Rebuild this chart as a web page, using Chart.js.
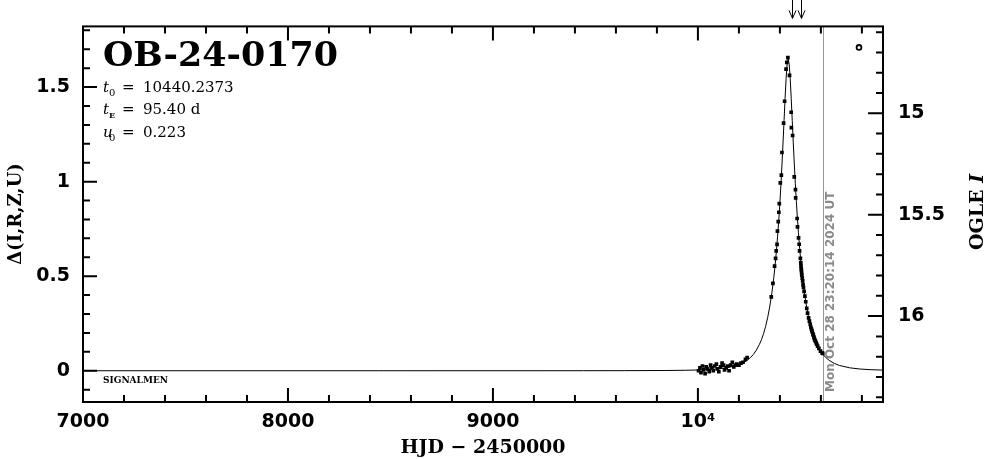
<!DOCTYPE html>
<html>
<head>
<meta charset="utf-8">
<script src="https://cdn.jsdelivr.net/npm/chart.js@4.4.1/dist/chart.umd.min.js"></script>
<style>
  body { margin: 0; background: #fff; }
  #wrap { width: 986px; height: 459px; }
</style>
</head>
<body>
<div id="wrap"><canvas id="lc"></canvas></div>
<script>
// curva del modelo
const modelT = [7000, 8440.24, 9440.24, 9640.24, 9840.24, 9940.24, 9990.24, 10040.24, 10090.24, 10140.24,
  10190.24, 10215.24, 10240.24, 10255.24, 10270.24, 10285.24, 10300.24, 10310.24, 10320.24, 10330.24,
  10340.24, 10350.24, 10360.24, 10365.24, 10370.24, 10375.24, 10380.24, 10385.24, 10390.24, 10395.24,
  10400.24, 10405.24, 10410.24, 10415.24, 10420.24, 10425.24, 10430.24, 10435.24, 10440.24,
  10445.24, 10450.24, 10455.24, 10460.24, 10465.24, 10470.24, 10475.24, 10480.24, 10485.24, 10490.24,
  10495.24, 10500.24, 10505.24, 10510.24, 10515.24, 10520.24, 10530.24, 10540.24, 10550.24, 10560.24,
  10570.24, 10580.24, 10595.24, 10610.24, 10625.24, 10640.24, 10665.24, 10690.24, 10740.24, 10790.24,
  10840.24, 10903];
const modelDelta = [0, 0, 0.0002, 0.0004, 0.0013, 0.0025, 0.0037, 0.0057, 0.0091, 0.0155,
  0.0280, 0.0388, 0.0550, 0.0685, 0.0860, 0.1090, 0.1394, 0.1650, 0.1961, 0.2341,
  0.2805, 0.3374, 0.4074, 0.4482, 0.4936, 0.5440, 0.6002, 0.6626, 0.7320, 0.8091,
  0.8947, 0.9893, 1.0929, 1.2049, 1.3226, 1.4398, 1.5452, 1.6211, 1.6492,
  1.6211, 1.5452, 1.4398, 1.3226, 1.2049, 1.0929, 0.9893, 0.8947, 0.8091, 0.7320,
  0.6626, 0.6002, 0.5440, 0.4936, 0.4482, 0.4074, 0.3374, 0.2805, 0.2341, 0.1961,
  0.1650, 0.1394, 0.1090, 0.0860, 0.0685, 0.0550, 0.0388, 0.0280, 0.0155, 0.0091,
  0.0057, 0.0034];

// observaciones
const obsT = [10003, 10010, 10015, 10022, 10028, 10035, 10040, 10048, 10055, 10062,
  10068, 10075, 10082, 10090, 10095, 10102, 10110, 10118, 10125, 10130,
  10138, 10145, 10152, 10160, 10168, 10175, 10182, 10190, 10200, 10210,
  10220, 10232, 10240,
  10358, 10366, 10374, 10379, 10382, 10386, 10388, 10392, 10395, 10397,
  10402, 10407, 10410, 10418, 10423, 10430, 10434, 10439,
  10447, 10455, 10456, 10462, 10470, 10476, 10477, 10484, 10486, 10491,
  10494, 10496, 10500, 10502, 10503, 10504, 10505, 10506, 10507, 10509,
  10511, 10513, 10515, 10518, 10522, 10526, 10531, 10535, 10540, 10544,
  10548, 10551, 10554, 10556, 10558, 10561, 10563, 10566, 10568, 10571,
  10574, 10577, 10580, 10584, 10590, 10598, 10606, 10609];
const obsDelta = [0.000, 0.015, -0.010, 0.025, 0.005, -0.015, 0.020, 0.010, -0.005, 0.030,
  0.015, 0.000, 0.025, 0.035, 0.010, -0.005, 0.020, 0.040, 0.030, 0.005,
  0.015, 0.025, 0.000, 0.030, 0.045, 0.020, 0.030, 0.035, 0.030, 0.040,
  0.045, 0.060, 0.070,
  0.391, 0.462, 0.553, 0.594, 0.634, 0.668, 0.738, 0.789, 0.838, 0.884,
  0.993, 1.034, 1.154, 1.309, 1.425, 1.595, 1.631, 1.656,
  1.562, 1.367, 1.286, 1.244, 1.025, 0.958, 0.914, 0.805, 0.761, 0.703,
  0.669, 0.634, 0.594, 0.570, 0.555, 0.540, 0.530, 0.515, 0.505, 0.490,
  0.475, 0.455, 0.440, 0.420, 0.395, 0.365, 0.330, 0.305, 0.280, 0.262,
  0.245, 0.230, 0.220, 0.212, 0.205, 0.195, 0.188, 0.178, 0.170, 0.162,
  0.155, 0.147, 0.140, 0.130, 0.118, 0.104, 0.094, 0.092];

const leftTicks = [0, 0.5, 1, 1.5];
const rightTicks = [15, 15.5, 16];
const bottomTicks = [7000, 8000, 9000, 10000];
const bottomLabels = ['7000', '8000', '9000', '10⁴'];
const arrowT = [10458, 10503];
const nowT = 10611.5;
const nowLabel = 'Mon Oct 28 23:20:14 2024 UT';
const eventName = 'OB-24-0170';
const fitParams = [['t', '0', '10440.2373'], ['t', 'E', '95.40 d'], ['u', '0', '0.223']];

const SERIF = '"DejaVu Serif"';

// linea gris de "ahora" y su fecha, por debajo de los puntos
const nowLine = {
  id: 'nowLine',
  beforeDatasetsDraw(chart) {
    const { ctx, chartArea: a, scales: { x } } = chart;
    const px = Math.round(x.getPixelForValue(nowT)) + 0.5;
    ctx.save();
    ctx.strokeStyle = '#999';
    ctx.lineWidth = 1;
    ctx.beginPath();
    ctx.moveTo(px, a.top);
    ctx.lineTo(px, a.bottom);
    ctx.stroke();
    ctx.translate(px + 7, a.bottom - 10);
    ctx.rotate(-Math.PI / 2);
    ctx.fillStyle = '#8a8a8a';
    ctx.font = 'bold 12px "DejaVu Sans"';
    ctx.textAlign = 'left';
    ctx.textBaseline = 'middle';
    ctx.fillText(nowLabel, 0, 0);
    ctx.restore();
  }
};

// marco, ticks hacia dentro y textos
const frame = {
  id: 'frame',
  afterDatasetsDraw(chart) {
    const { ctx, chartArea: a, scales: { x, y, y2 } } = chart;
    ctx.save();
    ctx.strokeStyle = '#000';
    ctx.fillStyle = '#000';
    ctx.lineWidth = 2;
    ctx.strokeRect(a.left, a.top, a.right - a.left, a.bottom - a.top);

    ctx.beginPath();
    for (let v = 7000; v <= x.max; v += 200) {
      const px = x.getPixelForValue(v);
      const len = v % 1000 === 0 ? 14 : 7;
      ctx.moveTo(px, a.bottom); ctx.lineTo(px, a.bottom - len);
      ctx.moveTo(px, a.top); ctx.lineTo(px, a.top + len);
    }
    for (let k = -1; k <= 18; k++) {
      const py = y.getPixelForValue(k / 10);
      const len = k % 5 === 0 ? 14 : 7;
      ctx.moveTo(a.left, py); ctx.lineTo(a.left + len, py);
    }
    for (let k = 146; k <= 164; k++) {
      const py = y2.getPixelForValue(k / 10);
      const len = k % 5 === 0 ? 15 : 7;
      ctx.moveTo(a.right, py); ctx.lineTo(a.right - len, py);
    }
    ctx.stroke();

    // flechas arriba
    ctx.lineWidth = 1;
    ctx.beginPath();
    arrowT.forEach(t => {
      const px = Math.round(x.getPixelForValue(t)) + 0.5;
      ctx.moveTo(px, 0); ctx.lineTo(px, a.top - 8);
      ctx.moveTo(px - 3.5, a.top - 16); ctx.lineTo(px, a.top - 8); ctx.lineTo(px + 3.5, a.top - 16);
    });
    ctx.stroke();

    // simbolo "o"
    ctx.lineWidth = 1.8;
    ctx.beginPath();
    ctx.arc(a.right - 24, a.top + 21, 2.4, 0, Math.PI * 2);
    ctx.stroke();

    // nombre del evento
    ctx.textBaseline = 'alphabetic';
    ctx.textAlign = 'left';
    ctx.font = 'bold 33px ' + SERIF;
    const w = ctx.measureText(eventName).width;
    ctx.save();
    ctx.translate(a.left + 20, a.top + 40);
    ctx.scale(235 / w, 1);
    ctx.fillText(eventName, 0, 0);
    ctx.restore();

    // parametros del ajuste
    const rows = [66, 87.5, 110.5];
    fitParams.forEach((p, i) => {
      const by = a.top + rows[i];
      const bx = a.left + 20;
      ctx.font = 'italic 15px ' + SERIF;
      ctx.fillText(p[0], bx, by);
      ctx.font = (p[1] === 'E' ? 'bold 8px ' : '10px ') + SERIF;
      ctx.fillText(p[1], bx + 6, by + 4);
      ctx.font = '15px ' + SERIF;
      ctx.fillText('=', bx + 19, by);
      ctx.fillText(p[2], bx + 40, by);
    });

    ctx.font = 'bold 9px ' + SERIF;
    ctx.fillText('SIGNALMEN', a.left + 20, y.getPixelForValue(0) + 12);

    // titulos de ejes
    ctx.font = 'bold 19px ' + SERIF;
    ctx.textAlign = 'center';
    ctx.textBaseline = 'middle';
    ctx.fillText('HJD − 2450000', (a.left + a.right) / 2, 448);

    ctx.save();
    ctx.translate(16, 214);
    ctx.rotate(-Math.PI / 2);
    ctx.font = 'bold 18px ' + SERIF;
    ctx.fillText('Δ(I,R,Z,U)', 0, 0);
    ctx.restore();

    ctx.save();
    ctx.translate(978, 212);
    ctx.rotate(-Math.PI / 2);
    ctx.font = 'bold 19px ' + SERIF;
    const w1 = ctx.measureText('OGLE ').width;
    ctx.font = 'bold italic 19px ' + SERIF;
    const w2 = ctx.measureText('I').width;
    ctx.textAlign = 'left';
    ctx.font = 'bold 19px ' + SERIF;
    ctx.fillText('OGLE ', -(w1 + w2) / 2, 0);
    ctx.font = 'bold italic 19px ' + SERIF;
    ctx.fillText('I', -(w1 + w2) / 2 + w1, 0);
    ctx.restore();

    ctx.restore();
  }
};

const tickFont = { family: 'DejaVu Sans', size: 19, weight: 'bold' };
const plainLabel = v => String(v);

new Chart(document.getElementById('lc'), {
  type: 'scatter',
  data: {
    datasets: [{
      label: 'modelo',
      data: modelT.map((t, i) => ({ x: t, y: modelDelta[i] })),
      showLine: true,
      borderColor: '#000',
      borderWidth: 1,
      pointRadius: 0
    }, {
      label: 'OGLE',
      data: obsT.map((t, i) => ({ x: t, y: obsDelta[i] })),
      pointStyle: 'rect',
      pointRadius: 2.6,
      backgroundColor: '#000',
      borderWidth: 0
    }]
  },
  options: {
    responsive: true,
    maintainAspectRatio: false,
    animation: false,
    layout: { padding: { top: 26, left: 0, right: 0, bottom: 0 } },
    plugins: { legend: { display: false }, tooltip: { enabled: false } },
    scales: {
      x: {
        type: 'linear',
        min: 7000,
        max: 10903,
        grid: { display: false, drawTicks: false },
        border: { display: false },
        afterBuildTicks: s => { s.ticks = bottomTicks.map(v => ({ value: v })); },
        afterFit: s => { s.height = 57; },
        ticks: {
          font: tickFont, color: '#000', padding: 9, maxRotation: 0,
          callback: (v, i) => bottomLabels[i]
        }
      },
      y: {
        type: 'linear',
        position: 'left',
        min: -0.1653,
        max: 1.8209,
        grid: { display: false, drawTicks: false },
        border: { display: false },
        afterBuildTicks: s => { s.ticks = leftTicks.map(v => ({ value: v })); },
        afterFit: s => { s.width = 83; },
        ticks: { font: tickFont, color: '#000', padding: 13, callback: plainLabel }
      },
      y2: {
        type: 'linear',
        position: 'right',
        reverse: true,
        min: 14.5714,
        max: 16.4236,
        grid: { display: false, drawTicks: false },
        border: { display: false },
        afterBuildTicks: s => { s.ticks = rightTicks.map(v => ({ value: v })); },
        afterFit: s => { s.width = 103; },
        ticks: { font: tickFont, color: '#000', padding: 15, callback: plainLabel }
      }
    }
  },
  plugins: [nowLine, frame]
});
</script>
</body>
</html>
